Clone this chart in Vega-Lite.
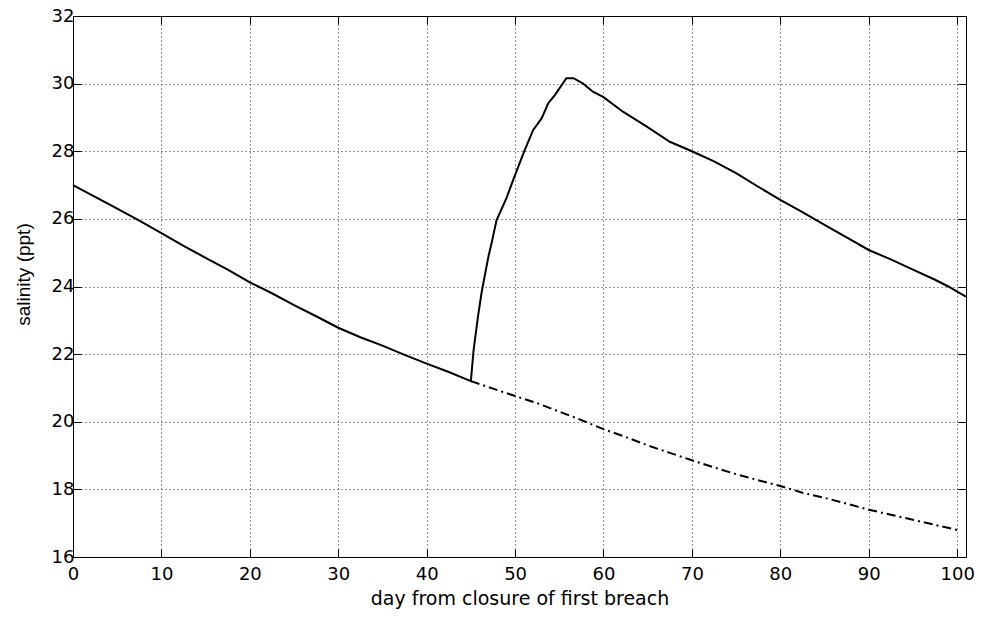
{
  "$schema": "https://vega.github.io/schema/vega-lite/v6.json",
  "autosize": "none",
  "width": 893,
  "height": 541,
  "padding": {"left": 73, "top": 16, "right": 15, "bottom": 64},
  "background": "white",
  "config": {
    "view": {"stroke": null},
    "axis": {
      "domainColor": "#000000",
      "tickColor": "#000000",
      "labelColor": "#000000",
      "titleColor": "#000000",
      "labelFont": "DejaVu Sans",
      "labelFontSize": 18,
      "titleFont": "DejaVu Sans",
      "titleFontWeight": "normal"
    }
  },
  "data": {
    "values": [
      {"day": 0, "salinity": 27.0, "series": "solid"},
      {"day": 2.5, "salinity": 26.65, "series": "solid"},
      {"day": 5, "salinity": 26.3, "series": "solid"},
      {"day": 7.5, "salinity": 25.95, "series": "solid"},
      {"day": 10, "salinity": 25.58, "series": "solid"},
      {"day": 12.5, "salinity": 25.2, "series": "solid"},
      {"day": 15, "salinity": 24.85, "series": "solid"},
      {"day": 17.5, "salinity": 24.5, "series": "solid"},
      {"day": 20, "salinity": 24.12, "series": "solid"},
      {"day": 22.5, "salinity": 23.8, "series": "solid"},
      {"day": 25, "salinity": 23.45, "series": "solid"},
      {"day": 27.5, "salinity": 23.12, "series": "solid"},
      {"day": 30, "salinity": 22.78, "series": "solid"},
      {"day": 32.5, "salinity": 22.5, "series": "solid"},
      {"day": 35, "salinity": 22.25, "series": "solid"},
      {"day": 37.5, "salinity": 21.98, "series": "solid"},
      {"day": 40, "salinity": 21.72, "series": "solid"},
      {"day": 42.5, "salinity": 21.47, "series": "solid"},
      {"day": 45, "salinity": 21.2, "series": "solid"},
      {"day": 45.3, "salinity": 22.1, "series": "solid"},
      {"day": 45.8, "salinity": 23.1, "series": "solid"},
      {"day": 46.2, "salinity": 23.8, "series": "solid"},
      {"day": 46.7, "salinity": 24.5, "series": "solid"},
      {"day": 47.0, "salinity": 24.9, "series": "solid"},
      {"day": 47.4, "salinity": 25.35, "series": "solid"},
      {"day": 47.9, "salinity": 25.96, "series": "solid"},
      {"day": 49.0, "salinity": 26.6, "series": "solid"},
      {"day": 50.0, "salinity": 27.3, "series": "solid"},
      {"day": 51.1, "salinity": 28.04, "series": "solid"},
      {"day": 52.05, "salinity": 28.63, "series": "solid"},
      {"day": 53.0, "salinity": 28.97, "series": "solid"},
      {"day": 53.75, "salinity": 29.42, "series": "solid"},
      {"day": 54.5, "salinity": 29.66, "series": "solid"},
      {"day": 55.8, "salinity": 30.16, "series": "solid"},
      {"day": 56.6, "salinity": 30.16, "series": "solid"},
      {"day": 57.7, "salinity": 30.0, "series": "solid"},
      {"day": 58.8, "salinity": 29.76, "series": "solid"},
      {"day": 60, "salinity": 29.6, "series": "solid"},
      {"day": 62.2, "salinity": 29.17, "series": "solid"},
      {"day": 64.9, "salinity": 28.73, "series": "solid"},
      {"day": 67.5, "salinity": 28.28, "series": "solid"},
      {"day": 70, "salinity": 28.0, "series": "solid"},
      {"day": 72.5, "salinity": 27.7, "series": "solid"},
      {"day": 75, "salinity": 27.35, "series": "solid"},
      {"day": 77.5, "salinity": 26.95, "series": "solid"},
      {"day": 80, "salinity": 26.56, "series": "solid"},
      {"day": 82.5, "salinity": 26.2, "series": "solid"},
      {"day": 85, "salinity": 25.82, "series": "solid"},
      {"day": 87.5, "salinity": 25.45, "series": "solid"},
      {"day": 90, "salinity": 25.08, "series": "solid"},
      {"day": 92.5, "salinity": 24.8, "series": "solid"},
      {"day": 95, "salinity": 24.5, "series": "solid"},
      {"day": 97.5, "salinity": 24.2, "series": "solid"},
      {"day": 99, "salinity": 24.0, "series": "solid"},
      {"day": 100, "salinity": 23.85, "series": "solid"},
      {"day": 101, "salinity": 23.7, "series": "solid"},
      {"day": 45, "salinity": 21.2, "series": "dashdot"},
      {"day": 47.5, "salinity": 20.98, "series": "dashdot"},
      {"day": 50, "salinity": 20.76, "series": "dashdot"},
      {"day": 52.5, "salinity": 20.55, "series": "dashdot"},
      {"day": 55, "salinity": 20.3, "series": "dashdot"},
      {"day": 57.5, "salinity": 20.05, "series": "dashdot"},
      {"day": 60, "salinity": 19.78, "series": "dashdot"},
      {"day": 62.5, "salinity": 19.55, "series": "dashdot"},
      {"day": 65, "salinity": 19.3, "series": "dashdot"},
      {"day": 67.5, "salinity": 19.08, "series": "dashdot"},
      {"day": 70, "salinity": 18.86, "series": "dashdot"},
      {"day": 72.5, "salinity": 18.65, "series": "dashdot"},
      {"day": 75, "salinity": 18.45, "series": "dashdot"},
      {"day": 77.5, "salinity": 18.27, "series": "dashdot"},
      {"day": 80, "salinity": 18.1, "series": "dashdot"},
      {"day": 82.5, "salinity": 17.9, "series": "dashdot"},
      {"day": 85, "salinity": 17.75, "series": "dashdot"},
      {"day": 87.5, "salinity": 17.58, "series": "dashdot"},
      {"day": 90, "salinity": 17.4, "series": "dashdot"},
      {"day": 92.5, "salinity": 17.25, "series": "dashdot"},
      {"day": 95, "salinity": 17.1, "series": "dashdot"},
      {"day": 97.5, "salinity": 16.95, "series": "dashdot"},
      {"day": 100, "salinity": 16.8, "series": "dashdot"}
    ]
  },
  "resolve": {"axis": {"x": "independent", "y": "independent"}},
  "layer": [
    {
      "transform": [{"filter": "datum.series === 'solid'"}],
      "mark": {"type": "line", "color": "#000000", "strokeWidth": 2},
      "encoding": {
        "x": {
          "field": "day", "type": "quantitative",
          "scale": {"domain": [0, 101], "nice": false, "zero": false},
          "axis": {
            "orient": "bottom",
            "title": "day from closure of first breach",
            "titleFontSize": 19,
            "titlePadding": 6,
            "values": [0, 10, 20, 30, 40, 50, 60, 70, 80, 90, 100],
            "tickSize": -8,
            "labelPadding": 16,
            "labelFlush": false,
            "grid": true,
            "gridColor": "#000000",
            "gridDash": [1, 3],
            "gridOpacity": 0.85
          }
        },
        "y": {
          "field": "salinity", "type": "quantitative",
          "scale": {"domain": [16, 32], "nice": false, "zero": false},
          "axis": {
            "orient": "left",
            "title": "salinity (ppt)",
            "titleFont": "Liberation Sans",
            "titleFontSize": 19,
            "titlePadding": 18,
            "titleY": 258,
            "values": [16, 18, 20, 22, 24, 26, 28, 30, 32],
            "tickSize": -8,
            "labelPadding": 7,
            "labelFlush": false,
            "grid": true,
            "gridColor": "#000000",
            "gridDash": [1, 3],
            "gridOpacity": 0.85
          }
        }
      }
    },
    {
      "transform": [{"filter": "datum.series === 'dashdot'"}],
      "mark": {"type": "line", "color": "#000000", "strokeWidth": 2, "strokeDash": [9, 4, 2, 4]},
      "encoding": {
        "x": {
          "field": "day", "type": "quantitative",
          "scale": {"domain": [0, 101], "nice": false, "zero": false},
          "axis": {
            "orient": "top",
            "title": null,
            "labels": false,
            "values": [0, 10, 20, 30, 40, 50, 60, 70, 80, 90, 100],
            "tickSize": -8,
            "grid": false
          }
        },
        "y": {
          "field": "salinity", "type": "quantitative",
          "scale": {"domain": [16, 32], "nice": false, "zero": false},
          "axis": {
            "orient": "right",
            "title": null,
            "labels": false,
            "values": [16, 18, 20, 22, 24, 26, 28, 30, 32],
            "tickSize": -8,
            "grid": false
          }
        }
      }
    }
  ]
}
